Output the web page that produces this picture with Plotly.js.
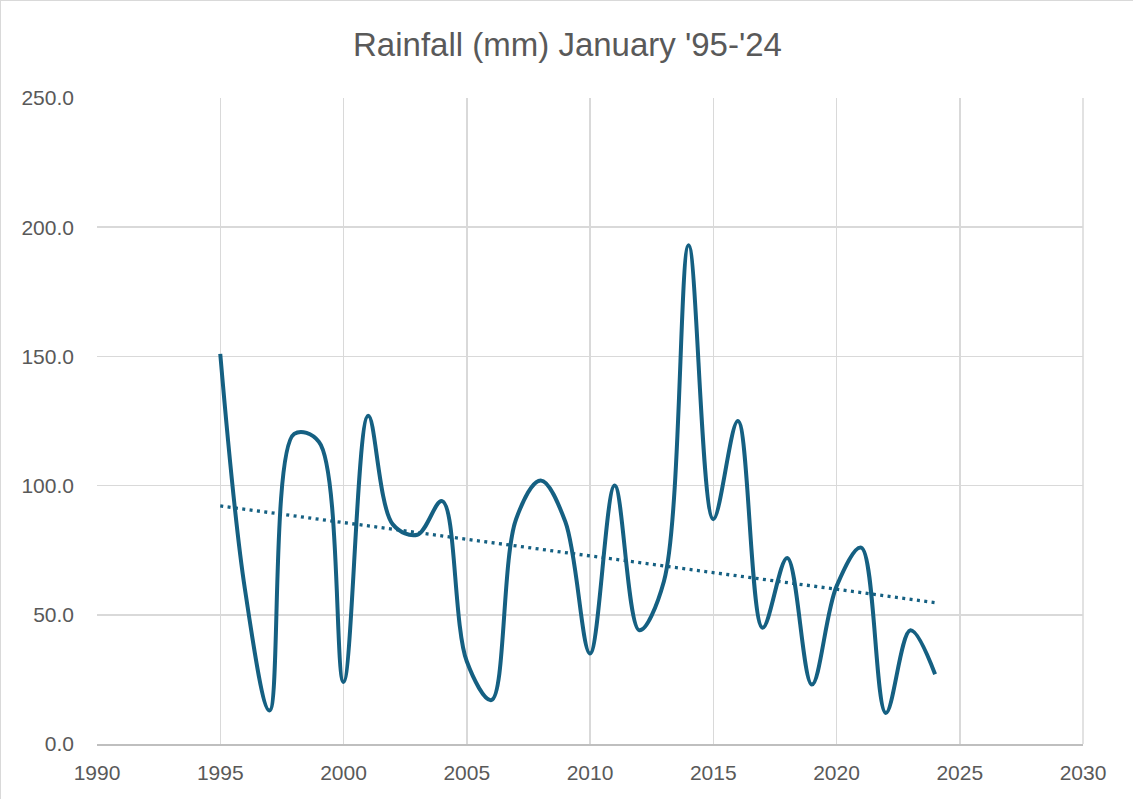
<!DOCTYPE html>
<html>
<head>
<meta charset="utf-8">
<script src="https://cdn.plot.ly/plotly-3.0.1.min.js"></script>
<style>
  html, body { margin: 0; padding: 0; background: #ffffff; }
  #chart { width: 1133px; height: 799px; box-sizing: border-box; border: 1px solid #d9d9d9; }
</style>
</head>
<body>
<div id="chart"></div>
<script>
const years = [1995,1996,1997,1998,1999,2000,2001,2002,2003,2004,2005,2006,2007,2008,2009,2010,2011,2012,2013,2014,2015,2016,2017,2018,2019,2020,2021,2022,2023,2024];
const rainfall = [151,60,13,120,117,24,127,85,81,94,32,17,87,102,86,35,100,44,63,193,87,125,45,72,23,61,76,12,44,27];
const titleText = "Rainfall (mm) January '95-'24";
const xTicks = [1990,1995,2000,2005,2010,2015,2020,2025,2030];
const yTicks = [0,50,100,150,200,250];

// linear trendline (least squares) computed from the data
const n = years.length;
const mx = years.reduce((a,b)=>a+b,0)/n;
const my = rainfall.reduce((a,b)=>a+b,0)/n;
let sxy = 0, sxx = 0;
for (let i = 0; i < n; i++) { sxy += (years[i]-mx)*(rainfall[i]-my); sxx += (years[i]-mx)**2; }
const slope = sxy/sxx, intercept = my - slope*mx;
const trendX = [years[0], years[n-1]];
const trendY = trendX.map(x => intercept + slope*x);

const color = '#156082';
const font = "'Liberation Sans', Arial, sans-serif";

const traces = [
  { x: years, y: rainfall, type: 'scatter', mode: 'lines',
    line: { color: color, width: 4, shape: 'spline', smoothing: 1 }, hoverinfo: 'x+y' },
  { x: trendX, y: trendY, type: 'scatter', mode: 'lines',
    line: { color: color, width: 3.3, dash: '3px,4.4px' }, hoverinfo: 'skip' }
];

const layout = {
  width: 1133, height: 799,
  margin: { l: 96, r: 51, t: 97, b: 56 },
  paper_bgcolor: '#ffffff', plot_bgcolor: '#ffffff',
  showlegend: false,
  font: { family: font, color: '#595959', size: 21 },
  title: { text: titleText, x: 0.5, xanchor: 'center', xref: 'container',
           y: 0.946, yanchor: 'middle', yref: 'container',
           font: { family: font, size: 33, color: '#595959' } },
  xaxis: {
    range: [1990, 2030], tickvals: xTicks, ticktext: xTicks.map(String),
    showgrid: true, gridcolor: '#d9d9d9', gridwidth: 1.5,
    zeroline: false, showline: true, linecolor: '#bfbfbf', linewidth: 1.5,
    ticks: '', ticklabelstandoff: 9,
    tickfont: { family: font, size: 21, color: '#595959' }, fixedrange: true
  },
  yaxis: {
    range: [0, 250], tickvals: yTicks, ticktext: yTicks.map(v => v.toFixed(1)),
    showgrid: true, gridcolor: '#d9d9d9', gridwidth: 1.5,
    zeroline: false, showline: false, ticks: '', ticklabelstandoff: 22,
    tickfont: { family: font, size: 21, color: '#595959' }, fixedrange: true
  },
  shapes: [
    { type: 'line', xref: 'paper', yref: 'paper', x0: 1, x1: 1, y0: 0, y1: 1,
      line: { color: '#d9d9d9', width: 1.5 } }
  ]
};

Plotly.newPlot('chart', traces, layout, { displayModeBar: false, staticPlot: true });
</script>
</body>
</html>
